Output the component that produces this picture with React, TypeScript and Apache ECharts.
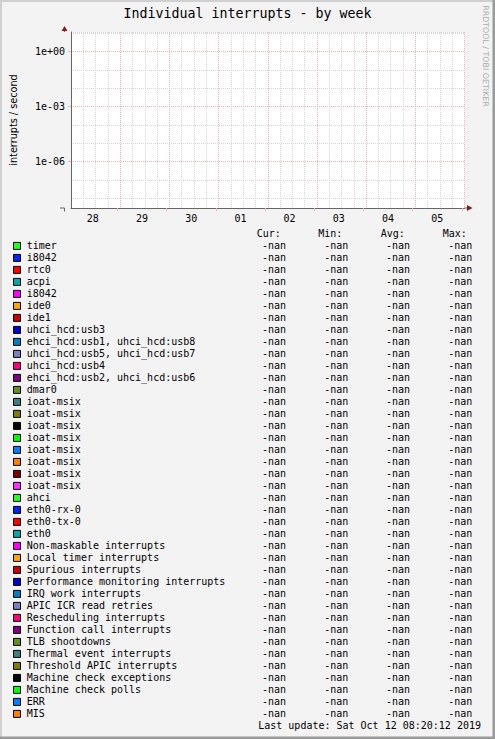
import { useEffect, useRef } from 'react';
import * as echarts from 'echarts';

const TITLE = 'Individual interrupts - by week';
const Y_NAME = 'interrupts / second';
const WATERMARK = 'RRDTOOL / TOBI OETIKER';
const LAST_UPDATE = 'Last update: Sat Oct 12 08:20:12 2019';

// x axis: hours since Sep 28 00:00
const X_START_HOUR = 1.34;
const X_END_HOUR = 193.34;
const dayLabels = ['28', '29', '30', '01', '02', '03', '04', '05'];

// y axis (log10 range)
const Y_MIN_EXP = -8.527;
const Y_MAX_EXP = 1.075;
const yTickValues = [1, 1e-3, 1e-6];
const yTickLabels = ['1e+00', '1e-03', '1e-06'];

const statHeaders = ['Cur:', 'Min:', 'Avg:', 'Max:'];

const seriesNames = [
  'timer', 'i8042', 'rtc0', 'acpi', 'i8042', 'ide0', 'ide1', 'uhci_hcd:usb3',
  'ehci_hcd:usb1, uhci_hcd:usb8', 'uhci_hcd:usb5, uhci_hcd:usb7', 'uhci_hcd:usb4',
  'ehci_hcd:usb2, uhci_hcd:usb6', 'dmar0', 'ioat-msix', 'ioat-msix', 'ioat-msix',
  'ioat-msix', 'ioat-msix', 'ioat-msix', 'ioat-msix', 'ioat-msix', 'ahci',
  'eth0-rx-0', 'eth0-tx-0', 'eth0', 'Non-maskable interrupts', 'Local timer interrupts',
  'Spurious interrupts', 'Performance monitoring interrupts', 'IRQ work interrupts',
  'APIC ICR read retries', 'Rescheduling interrupts', 'Function call interrupts',
  'TLB shootdowns', 'Thermal event interrupts', 'Threshold APIC interrupts',
  'Machine check exceptions', 'Machine check polls', 'ERR', 'MIS',
];

const seriesColors = [
  '#22ff22', '#0022ff', '#ff0000', '#00aaaa', '#ff00ff', '#ffa500', '#cc0000', '#0000cc',
  '#0080c0', '#8080c0', '#ff0080', '#800080', '#688e23', '#408080', '#808000', '#000000',
  '#00ff00', '#0080ff', '#ff8000', '#800000', '#fb31fd', '#22ff22', '#0022ff', '#ff0000',
  '#00aaaa', '#ff00ff', '#ffa500', '#cc0000', '#0000cc', '#0080c0', '#8080c0', '#ff0080',
  '#800080', '#688e23', '#408080', '#808000', '#000000', '#00ff00', '#0080ff', '#ff8000',
];

const N = NaN;
const curValues = [N, N, N, N, N, N, N, N, N, N, N, N, N, N, N, N, N, N, N, N, N, N, N, N, N, N, N, N, N, N, N, N, N, N, N, N, N, N, N, N];
const minValues = [N, N, N, N, N, N, N, N, N, N, N, N, N, N, N, N, N, N, N, N, N, N, N, N, N, N, N, N, N, N, N, N, N, N, N, N, N, N, N, N];
const avgValues = [N, N, N, N, N, N, N, N, N, N, N, N, N, N, N, N, N, N, N, N, N, N, N, N, N, N, N, N, N, N, N, N, N, N, N, N, N, N, N, N];
const maxValues = [N, N, N, N, N, N, N, N, N, N, N, N, N, N, N, N, N, N, N, N, N, N, N, N, N, N, N, N, N, N, N, N, N, N, N, N, N, N, N, N];

const MONO = '"DejaVu Sans Mono", monospace';
const SANS = '"DejaVu Sans", sans-serif';
const BG = '#f3f3f3';
const GRID = '#d6d6d6';
const MGRID = '#eab4b4';
const AXIS = '#666666';
const ARROW = '#7f1f1f';

const fmt = (v: number) => (isNaN(v) ? '-nan' : v.toFixed(2));

export default function App() {
  const ref = useRef<HTMLDivElement>(null);

  useEffect(() => {
    const chart = echarts.init(ref.current!, null, { renderer: 'svg' });

    const gLeft = 64.5;
    const gTop = 32;
    const gW = 400;
    const gH = 176;
    const gBottom = gTop + gH;
    const gRight = gLeft + gW;

    const graphics: any[] = [];
    // frame shading
    graphics.push({ type: 'rect', silent: true, shape: { x: 0, y: 0, width: 495, height: 2 }, style: { fill: '#d0d0d0' } });
    graphics.push({ type: 'rect', silent: true, shape: { x: 0, y: 0, width: 2, height: 739 }, style: { fill: '#d0d0d0' } });
    graphics.push({ type: 'rect', silent: true, shape: { x: 492.5, y: 0, width: 2.5, height: 739 }, style: { fill: '#9a9a9a' } });
    graphics.push({ type: 'rect', silent: true, shape: { x: 0, y: 736.5, width: 495, height: 2.5 }, style: { fill: '#9a9a9a' } });

    // axis extensions and arrows
    graphics.push({ type: 'line', silent: true, shape: { x1: gLeft, y1: gBottom, x2: gLeft, y2: gBottom + 3.5 }, style: { stroke: AXIS, lineWidth: 1 } });
    graphics.push({ type: 'line', silent: true, shape: { x1: gLeft - 4.5, y1: gBottom, x2: gLeft, y2: gBottom }, style: { stroke: AXIS, lineWidth: 1 } });
    graphics.push({ type: 'line', silent: true, shape: { x1: gRight, y1: gBottom, x2: gRight + 3, y2: gBottom }, style: { stroke: AXIS, lineWidth: 1 } });
    graphics.push({ type: 'line', silent: true, shape: { x1: gLeft, y1: gTop, x2: gLeft, y2: gTop - 1 }, style: { stroke: AXIS, lineWidth: 1 } });
    graphics.push({ type: 'polygon', silent: true, shape: { points: [[gLeft - 3, gTop - 1], [gLeft + 3, gTop - 1], [gLeft, gTop - 6]] }, style: { fill: ARROW } });
    graphics.push({ type: 'polygon', silent: true, shape: { points: [[gRight + 2.5, gBottom - 3], [gRight + 2.5, gBottom + 3], [gRight + 8, gBottom]] }, style: { fill: ARROW } });

    // watermark
    graphics.push({
      type: 'text', silent: true, x: 485.7, y: 56, rotation: -Math.PI / 2,
      style: { text: WATERMARK, fill: '#ababab', fontFamily: SANS, fontSize: 7.9, align: 'center', verticalAlign: 'middle' },
    });

    // legend table
    const rowTop = 245.7;
    const rowH = 12;
    const headerX = [256.7, 318.3, 380.7, 442.7];
    const valueRight = [286, 348.3, 410, 472.3];
    const statCols = [curValues, minValues, avgValues, maxValues];
    statHeaders.forEach((h, c) => {
      graphics.push({
        type: 'text', silent: true, x: headerX[c], y: rowTop - rowH,
        style: { text: h, fill: '#000', fontFamily: MONO, fontSize: 10, align: 'left', verticalAlign: 'middle' },
      });
    });
    seriesNames.forEach((name, i) => {
      const y = rowTop + i * rowH;
      graphics.push({
        type: 'rect', silent: true,
        shape: { x: 13.5, y: y - 3.3, width: 7, height: 7 },
        style: { fill: seriesColors[i], stroke: '#000', lineWidth: 1 },
      });
      graphics.push({
        type: 'text', silent: true, x: 26.7, y,
        style: { text: name, fill: '#000', fontFamily: MONO, fontSize: 10, align: 'left', verticalAlign: 'middle' },
      });
      statCols.forEach((col, c) => {
        graphics.push({
          type: 'text', silent: true, x: valueRight[c], y,
          style: { text: fmt(col[i]), fill: '#000', fontFamily: MONO, fontSize: 10, align: 'right', verticalAlign: 'middle' },
        });
      });
    });
    graphics.push({
      type: 'text', silent: true, x: 481, y: rowTop + seriesNames.length * rowH,
      style: { text: LAST_UPDATE, fill: '#000', fontFamily: MONO, fontSize: 10, align: 'right', verticalAlign: 'middle' },
    });

    const yMin = Math.pow(10, Y_MIN_EXP);
    const yMax = Math.pow(10, Y_MAX_EXP);

    const option: any = {
      animation: false,
      backgroundColor: BG,
      title: {
        text: TITLE,
        left: 'center',
        top: 6.5,
        padding: 0,
        textStyle: { fontFamily: MONO, fontSize: 13.3, fontWeight: 'normal', color: '#000' },
      },
      grid: {
        left: gLeft, top: gTop, width: gW, height: gH,
        show: true, backgroundColor: '#ffffff', borderWidth: 0,
      },
      xAxis: [
        {
          type: 'value',
          min: X_START_HOUR,
          max: X_END_HOUR,
          interval: 6,
          axisLine: { show: true, lineStyle: { color: AXIS, width: 1 } },
          axisTick: { show: false },
          axisLabel: {
            customValues: dayLabels.map((_, i) => i * 24 + 12),
            formatter: (v: number) => dayLabels[Math.floor(v / 24)] ?? '',
            margin: 5,
            fontFamily: MONO, fontSize: 10, color: '#000',
          },
          splitLine: {
            show: true,
            lineStyle: { color: [MGRID, GRID, GRID, GRID], type: [1, 1], width: 1 },
          },
        },
        {
          // day-boundary tick marks
          type: 'value',
          position: 'bottom',
          min: X_START_HOUR,
          max: X_END_HOUR,
          axisLine: { show: false },
          axisLabel: { show: false },
          splitLine: { show: false },
          axisTick: {
            show: true, length: 3, inside: false,
            customValues: dayLabels.map((_, i) => (i + 1) * 24),
            lineStyle: { color: MGRID },
          },
        },
      ],
      yAxis: [
        {
          type: 'log',
          logBase: 10,
          min: yMin,
          max: yMax,
          name: Y_NAME,
          nameLocation: 'middle',
          nameGap: 53,
          nameTextStyle: { fontFamily: SANS, fontSize: 9.7, color: '#000' },
          axisLine: { show: true, lineStyle: { color: AXIS, width: 1 } },
          axisTick: { show: false },
          axisLabel: {
            customValues: yTickValues,
            formatter: (v: number) => {
              const idx = yTickValues.findIndex((t) => Math.abs(Math.log10(t) - Math.log10(v)) < 1e-6);
              return idx >= 0 ? yTickLabels[idx] : '';
            },
            margin: 6,
            fontFamily: MONO, fontSize: 10, color: '#000',
          },
          splitLine: {
            show: true,
            lineStyle: { color: [MGRID, GRID, GRID], type: [1, 1], width: 1 },
          },
        },
        {
          type: 'log',
          logBase: 10,
          position: 'left',
          min: yMin,
          max: yMax,
          axisLine: { show: false },
          axisLabel: { show: false },
          splitLine: { show: false },
          axisTick: {
            show: true, length: 3, inside: false,
            customValues: yTickValues,
            lineStyle: { color: MGRID },
          },
        },
      ],
      series: seriesNames.map((name, i) => ({
        type: 'line',
        name,
        color: seriesColors[i],
        showSymbol: false,
        data: [] as number[][],
      })),
      graphic: graphics,
    };

    chart.setOption(option);
    return () => chart.dispose();
  }, []);

  return (
    <div
      ref={ref}
      style={{ position: 'fixed', left: 0, top: 0, width: 495, height: 739 }}
    />
  );
}
